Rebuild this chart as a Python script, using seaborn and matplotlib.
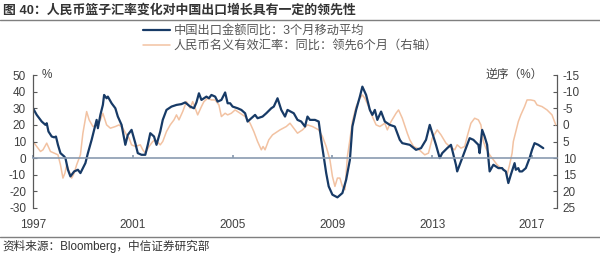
import matplotlib
matplotlib.use("Agg")
import matplotlib.pyplot as plt
from matplotlib.lines import Line2D
import seaborn as sns
import pandas as pd

# ---------------- data ----------------
export_year = [1997.0, 1997.15, 1997.35, 1997.5, 1997.55, 1997.62, 1997.75, 1997.85, 1997.92, 1998.0,
               1998.1, 1998.25, 1998.3, 1998.4, 1998.5, 1998.65, 1998.8, 1998.9, 1999.1, 1999.2,
               1999.35, 1999.5, 1999.55, 1999.6, 1999.7, 1999.8, 1999.85, 1999.95, 2000.0, 2000.15,
               2000.3, 2000.4, 2000.55, 2000.7, 2000.8, 2000.95, 2001.1, 2001.2, 2001.35, 2001.5,
               2001.6, 2001.7, 2001.85, 2001.95, 2002.1, 2002.2, 2002.35, 2002.55, 2002.75, 2002.95,
               2003.1, 2003.3, 2003.45, 2003.55, 2003.65, 2003.75, 2003.85, 2003.95, 2004.05, 2004.15,
               2004.3, 2004.4, 2004.55, 2004.7, 2004.8, 2004.9, 2005.0, 2005.2, 2005.35, 2005.5,
               2005.6, 2005.75, 2005.9, 2006.0, 2006.2, 2006.35, 2006.55, 2006.65, 2006.8, 2006.95,
               2007.1, 2007.2, 2007.45, 2007.6, 2007.75, 2007.9, 2008.0, 2008.1, 2008.3, 2008.45,
               2008.55, 2008.65, 2008.75, 2008.85, 2009.0, 2009.2, 2009.4, 2009.55, 2009.7, 2009.8,
               2009.95, 2010.1, 2010.2, 2010.35, 2010.5, 2010.6, 2010.7, 2010.8, 2010.95, 2011.1,
               2011.3, 2011.5, 2011.7, 2011.8, 2012.1, 2012.35, 2012.55, 2012.75, 2012.9, 2013.15,
               2013.3, 2013.4, 2013.6, 2013.75, 2013.85, 2013.95, 2014.0, 2014.2, 2014.3, 2014.4,
               2014.5, 2014.65, 2014.85, 2014.9, 2015.0, 2015.1, 2015.2, 2015.3, 2015.45, 2015.65,
               2015.8, 2015.85, 2015.95, 2016.05, 2016.15, 2016.3, 2016.35, 2016.45, 2016.5, 2016.6,
               2016.75, 2016.9, 2017.0, 2017.1, 2017.25, 2017.45]
export_yoy = [30, 26, 22, 20, 21, 16, 13, 12.5, 13, 8,
              3, 1, 0, -7, -11, -8, -7, -9, -3, 3,
              11, 20, 23, 18, 26, 32, 38, 36, 37, 33,
              30, 25, 20, 8, 14, 17, 9, 3, 2, 2,
              8, 15, 13, 8, 16, 23, 29, 31, 32, 32.5,
              33.5, 31, 30, 33.5, 39, 35, 36, 37, 36, 38,
              37, 34, 35, 39.5, 33, 33, 31, 30, 29, 27,
              22, 24, 26, 24, 25, 27, 30, 31, 36, 29,
              25, 29, 27, 23, 22, 19, 25, 23, 23, 22,
              11, 1, -9, -17, -22, -23.6, -21, -13, -1, 19,
              29, 37, 43, 38, 29, 26, 29, 23, 28, 22,
              20, 19, 11, 9, 8, 5, 6, 11, 20, 8,
              0, 3, 6, 8, 2, -4, -8, 0, 4, 8,
              12, 11, 8, 3, 17, 13, 8, -8, -4, -6,
              -6, -7, -8, -15, -10, -3, -7, -6, -8, -8,
              -6, 0, 5, 9, 8, 6]

neer_year = [1997.0, 1997.15, 1997.3, 1997.4, 1997.55, 1997.7, 1997.85, 1998.0, 1998.1, 1998.2,
             1998.28, 1998.35, 1998.45, 1998.55, 1998.65, 1998.75, 1998.9, 1999.0, 1999.15, 1999.25,
             1999.4, 1999.55, 1999.7, 1999.8, 1999.95, 2000.1, 2000.3, 2000.45, 2000.6, 2000.75,
             2000.85, 2000.95, 2001.1, 2001.3, 2001.4, 2001.5, 2001.65, 2001.8, 2001.9, 2002.1,
             2002.2, 2002.35, 2002.5, 2002.65, 2002.75, 2002.85, 2003.0, 2003.15, 2003.3, 2003.4,
             2003.6, 2003.75, 2003.85, 2004.0, 2004.15, 2004.3, 2004.45, 2004.55, 2004.7, 2004.8,
             2004.95, 2005.1, 2005.3, 2005.5, 2005.7, 2005.85, 2006.0, 2006.15, 2006.22, 2006.3,
             2006.45, 2006.6, 2006.9, 2007.15, 2007.3, 2007.45, 2007.6, 2007.8, 2008.0, 2008.2,
             2008.45, 2008.6, 2008.75, 2008.9, 2009.0, 2009.1, 2009.2, 2009.3, 2009.4, 2009.5,
             2009.55, 2009.6, 2009.7, 2009.8, 2009.95, 2010.1, 2010.2, 2010.3, 2010.45, 2010.6,
             2010.75, 2010.9, 2011.1, 2011.2, 2011.35, 2011.55, 2011.65, 2011.8, 2012.0, 2012.1,
             2012.25, 2012.4, 2012.55, 2012.7, 2012.85, 2013.0, 2013.2, 2013.35, 2013.55, 2013.7,
             2013.9, 2014.0, 2014.15, 2014.3, 2014.4, 2014.55, 2014.7, 2014.85, 2014.95, 2015.05,
             2015.15, 2015.3, 2015.45, 2015.6, 2015.75, 2015.9, 2016.0, 2016.1, 2016.2, 2016.25,
             2016.35, 2016.45, 2016.55, 2016.7, 2016.8, 2016.95, 2017.1, 2017.2, 2017.4, 2017.6,
             2017.8, 2017.95]
# right axis values (inverted axis)
neer_yoy = [5, 6.5, 8, 7.5, 5.5, 8, 8.5, 9, 12, 16,
            14.5, 12, 14, 16, 14.5, 12, 9, 2.5, -4, -1.5,
            0.5, 0, -1.5, -3.5, 0, 1, 0.5, 0, 1, 3,
            4, 6, 6.5, 6, 7.5, 8.5, 6.5, 5, 4.5, 6,
            5, 2, 0, -1.5, -3, -1.5, -4, -7, -5, -7,
            -3, -5.5, -7, -8, -7.5, -7.5, -6, -2.5, -3.5, -3,
            -3.5, -4.5, -3.5, -2.5, -0.5, 2, 5, 7.5, 6.5, 7.5,
            4.5, 3, 1.5, 0.5, -0.5, 1, 2.5, 1.5, 0, 0.5,
            1.5, 3.5, 6.5, 10.5, 15.5, 18.5, 16, 16, 18.5, 19.5,
            14.5, 9.5, 4.5, -1, -5.5, -8, -9, -8, -5.5, -2.5,
            0, 0.5, -0.5, 1.5, -1, -3.5, -4.5, -2, 2.5, 4.5,
            6.5, 7, 8, 9, 8.5, 4, 1.5, 3, 5.5, 6.5,
            7.5, 6, 7, 6.5, 3.5, -0.5, -2, -1.5, 0, 5,
            7, 9, 10.5, 12, 13, 13.5, 15, 12, 8.5, 5,
            2, -1, -3, -5.5, -7.5, -7.5, -7.25, -6, -5.5, -4.5,
            -3, 0]

year_ticks = [1997, 2001, 2005, 2009, 2013, 2017]
left_ticks = [50, 40, 30, 20, 10, 0, -10, -20, -30]
right_ticks = [-15, -10, -5, 0, 5, 10, 15, 20, 25]

label_export = "中国出口金额同比：3个月移动平均"
label_neer = "人民币名义有效汇率：同比：领先6个月（右轴）"
title = "图 40：人民币篮子汇率变化对中国出口增长具有一定的领先性"
source = "资料来源：Bloomberg，中信证券研究部"

# ---------------- style ----------------
sns.set_theme(style="white")
FAM = ["Liberation Sans", "Noto Sans CJK SC", "DejaVu Sans"]
plt.rcParams["font.family"] = FAM
plt.rcParams["axes.unicode_minus"] = False

BLUE = "#173a66"
ORANGE = "#f2c2a2"
TXT = "#404040"
AXC = "#595959"
ZERO = "#8a9bb0"

fig = plt.figure(figsize=(6.0, 2.57), dpi=100)
ax = fig.add_axes([33/600, 1-208/257, (557-33)/600, (208-75)/257])
ax2 = ax.twinx()

df_e = pd.DataFrame({"year": export_year, "v": export_yoy})
df_n = pd.DataFrame({"year": neer_year, "v": neer_yoy})

sns.lineplot(data=df_n, x="year", y="v", ax=ax2, color=ORANGE, linewidth=1.1,
             sort=False, estimator=None, label=label_neer, legend=False)
sns.lineplot(data=df_e, x="year", y="v", ax=ax, color=BLUE, linewidth=1.6,
             sort=False, estimator=None, label=label_export, legend=False)
ax.set_zorder(ax2.get_zorder() + 1)
ax.patch.set_visible(False)

ax.set_xlim(1997, 2018)
ax.set_ylim(-30, 50)
ax2.set_ylim(25, -15)
ax.set_xlabel("")
ax.set_ylabel("")
ax2.set_ylabel("")

for s in ["top", "right"]:
    ax.spines[s].set_visible(False)
for s in ["top", "left", "bottom"]:
    ax2.spines[s].set_visible(False)
ax.spines["left"].set_color(AXC)
ax.spines["left"].set_linewidth(0.9)
ax2.spines["right"].set_color(AXC)
ax2.spines["right"].set_linewidth(0.9)

# zero line as bottom spine
ax.spines["bottom"].set_position(("data", 0))
ax.spines["bottom"].set_color(ZERO)
ax.spines["bottom"].set_linewidth(1.2)
ax.set_xticks(year_ticks)
ax.tick_params(axis="x", direction="in", length=2.5, color=ZERO, labelbottom=False, bottom=True)

ax.set_yticks(left_ticks)
ax.tick_params(axis="y", direction="in", length=3, width=0.8, color=AXC, labelsize=8.5,
               labelcolor=TXT, pad=5, left=True)
ax2.set_yticks(right_ticks)
ax2.tick_params(axis="y", direction="in", length=3, width=0.8, color=AXC, labelsize=8.5,
                labelcolor=TXT, pad=4, right=True)

sec = ax.secondary_xaxis("bottom")
sec.set_xticks(year_ticks)
sec.set_xticklabels([str(y) for y in year_ticks])
sec.spines["bottom"].set_visible(False)
sec.tick_params(axis="x", length=0, pad=8, labelsize=8.5, labelcolor=TXT)

ax.grid(False)
ax2.grid(False)

# unit labels
fig.text(47/600, 1-75/257, "%", ha="center", va="center", fontsize=8.5, color=TXT, family=FAM)
fig.text(514/600, 1-75/257, "逆序（%）", ha="center", va="center", fontsize=8.5, color=TXT, family=FAM)

# legend
handles = [Line2D([], [], color=BLUE, linewidth=1.6), Line2D([], [], color=ORANGE, linewidth=1.1)]
leg = fig.legend(handles, [label_export, label_neer], loc="upper left",
                 bbox_to_anchor=(143/600, 1-25/257), bbox_transform=fig.transFigure,
                 frameon=False, fontsize=8.8, handlelength=2.2, handletextpad=0.3,
                 labelspacing=0.25, borderpad=0, borderaxespad=0)
for t in leg.get_texts():
    t.set_color("#555555")

# title and source
fig.text(3/600, 1-10/257, title, ha="left", va="center", fontsize=9.3, fontweight="bold",
         color="#333333", family=FAM)
fig.add_artist(Line2D([0, 1], [1-20/257, 1-20/257], transform=fig.transFigure,
                      color="#7f7f7f", linewidth=1.0))
fig.add_artist(Line2D([0, 1], [1-237/257, 1-237/257], transform=fig.transFigure,
                      color="#7f7f7f", linewidth=1.0))
fig.text(2/600, 1-246/257, source, ha="left", va="center", fontsize=8.4, color="#333333", family=FAM)

fig.savefig("out.png", dpi=100)
